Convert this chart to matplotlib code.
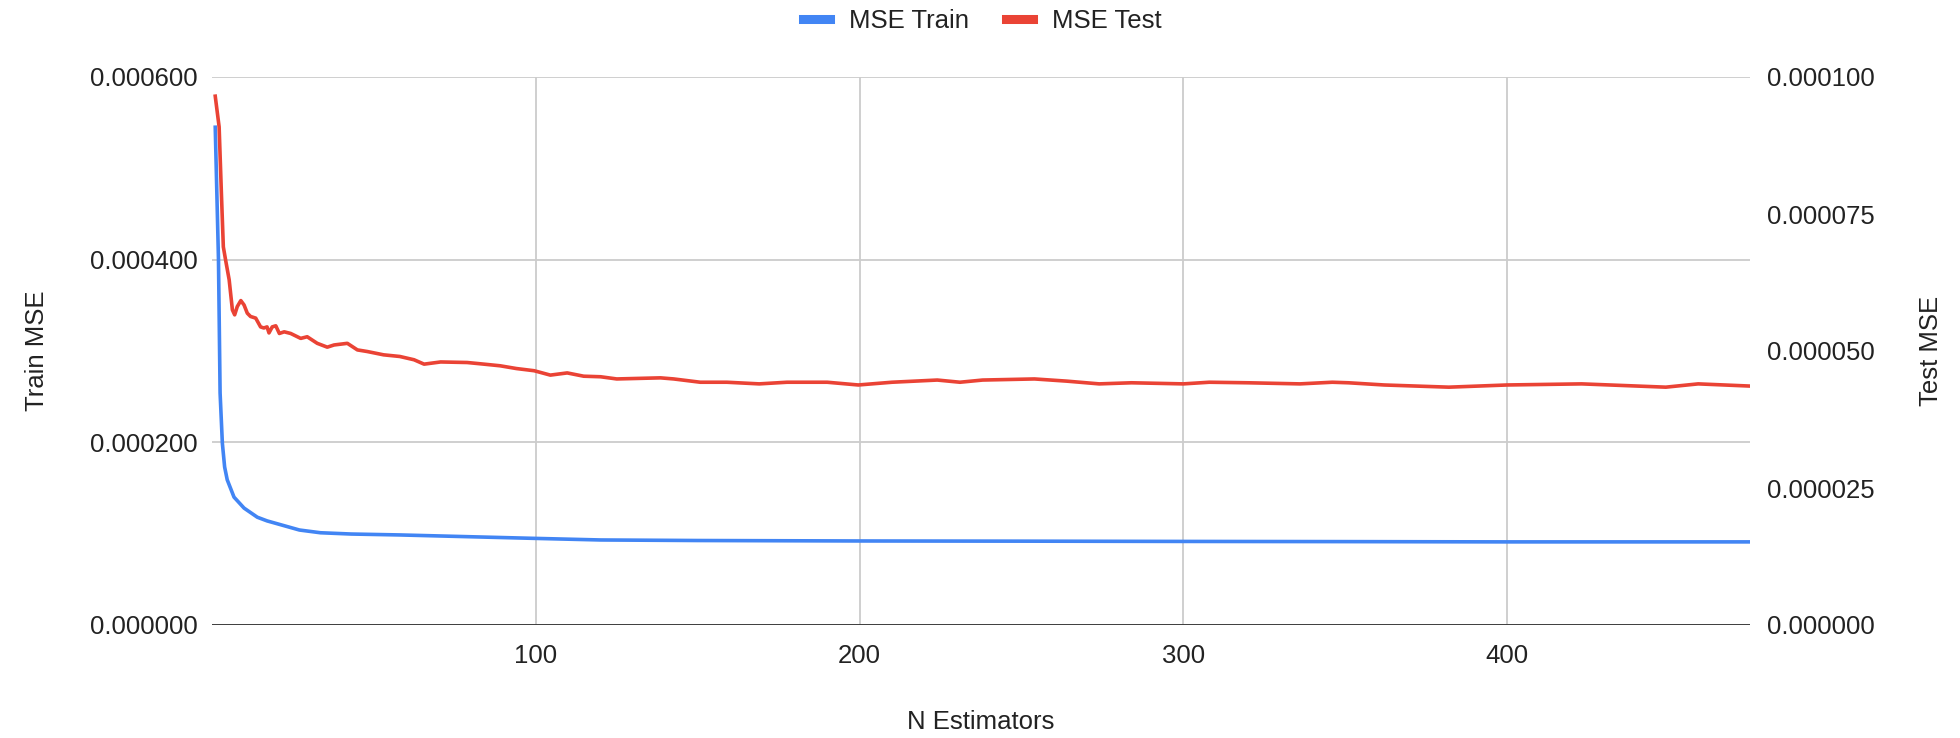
import numpy as np
import matplotlib.pyplot as plt
from matplotlib.ticker import FormatStrFormatter

plt.rcParams['font.family'] = ['Liberation Sans', 'DejaVu Sans']

# values
n_train = [1, 2, 2.5, 3.2, 3.9, 4.7, 6.8, 9.9, 14, 17, 21, 27, 33.5, 43, 58, 79, 99,
           120, 150, 200, 250, 300, 350, 400, 475]
mse_train = [5.45e-4, 4.0e-4, 2.54e-4, 1.99e-4, 1.73e-4, 1.59e-4, 1.40e-4, 1.28e-4,
             1.18e-4, 1.14e-4, 1.10e-4, 1.04e-4, 1.01e-4, 9.96e-5, 9.86e-5, 9.67e-5,
             9.49e-5, 9.31e-5, 9.25e-5, 9.2e-5, 9.18e-5, 9.15e-5, 9.13e-5, 9.1e-5, 9.1e-5]

n_test = [1, 2.2, 2.9, 3.5, 4.2, 5.3, 6.3, 7.0, 7.8, 8.9, 9.9, 10.9, 11.9, 13.5, 15, 16,
          17, 17.6, 18.6, 19.7, 20.8, 22.3, 24.3, 27.4, 29.4, 32.5, 35.6, 37.7, 41.8,
          44.9, 48, 53, 58, 62.4, 65.5, 70.6, 78.8, 84, 89, 94, 99.5, 104.5, 109.7,
          114.8, 120, 125, 138.5, 142.6, 150.8, 159, 169, 177.6, 190, 199.6, 210, 224,
          231, 238, 254, 264, 274, 284, 300, 308, 320, 336, 346, 351, 362, 382, 400,
          423, 449, 459, 475]
mse_test = [9.65, 9.09, 7.88, 6.90, 6.66, 6.30, 5.75, 5.66, 5.81, 5.92, 5.84, 5.69, 5.63,
            5.60, 5.44, 5.42, 5.44, 5.33, 5.44, 5.46, 5.32, 5.35, 5.32, 5.23, 5.26, 5.14,
            5.07, 5.11, 5.14, 5.02, 4.99, 4.93, 4.90, 4.84, 4.76, 4.80, 4.79, 4.76, 4.73,
            4.68, 4.64, 4.56, 4.60, 4.54, 4.53, 4.49, 4.51, 4.49, 4.43, 4.43, 4.40, 4.43,
            4.43, 4.38, 4.43, 4.47, 4.43, 4.47, 4.49, 4.45, 4.40, 4.42, 4.40, 4.43, 4.42,
            4.40, 4.43, 4.42, 4.38, 4.34, 4.38, 4.40, 4.34, 4.40, 4.36]
mse_test = [v * 1e-5 for v in mse_test]

x_ticks = [100, 200, 300, 400]
left_ticks = [0, 0.0002, 0.0004, 0.0006]
right_ticks = [0, 0.000025, 0.00005, 0.000075, 0.0001]

blue = "#4285F4"
red = "#EA4335"
txt = "#222222"
fs = 18.5

fig = plt.figure(figsize=(19.6, 7.38), dpi=100)
ax = fig.add_axes([212/1960, 1-625/738, (1750-212)/1960, (625-77)/738])
ax2 = ax.twinx()

l1, = ax.plot(n_train, mse_train, color=blue, linewidth=2.6, solid_joinstyle='round')
l2, = ax2.plot(n_test, mse_test, color=red, linewidth=2.6, solid_joinstyle='round')

ax.set_xlim(0, 475)
ax.set_ylim(0, 0.0006)
ax2.set_ylim(0, 0.0001)
ax.set_xticks(x_ticks)
ax.set_yticks(left_ticks)
ax2.set_yticks(right_ticks)
ax.yaxis.set_major_formatter(FormatStrFormatter('%.6f'))
ax2.yaxis.set_major_formatter(FormatStrFormatter('%.6f'))

ax.grid(True, color="#cccccc", linewidth=1.3)
ax.set_axisbelow(True)
for a in (ax, ax2):
    for s in a.spines.values():
        s.set_visible(False)
    a.tick_params(length=0, labelsize=fs, colors=txt)
ax.tick_params(axis='x', pad=14)
ax.tick_params(axis='y', pad=10)
ax2.tick_params(axis='y', pad=12)
ax.axhline(0, color="#333333", linewidth=1.3, zorder=3)

ax.set_xlabel("N Estimators", fontsize=fs, color=txt)
ax.set_ylabel("Train MSE", fontsize=fs, color=txt)
ax2.set_ylabel("Test MSE", fontsize=fs, color=txt)
ax.xaxis.set_label_coords(0.5, (625-722)/548)
ax.xaxis.label.set_va('center')
ax.yaxis.set_label_coords((37-212)/1538, 0.5)
ax2.yaxis.set_label_coords((1931-212)/1538, 0.5)
for lab in (ax.yaxis.label, ax2.yaxis.label):
    lab.set_va('center')
    lab.set_ha('center')

fig.legend([l1, l2], ["MSE Train", "MSE Test"], loc='center', bbox_to_anchor=(0.501, 1-21/738),
           ncol=2, frameon=False, fontsize=fs, handlelength=1.05,
           columnspacing=1.44, handletextpad=0.74, borderpad=0)
for h in fig.legends[0].get_lines():
    h.set_linewidth(6.5)
for t in fig.legends[0].get_texts():
    t.set_color(txt)

fig.savefig("out.png", dpi=100)
